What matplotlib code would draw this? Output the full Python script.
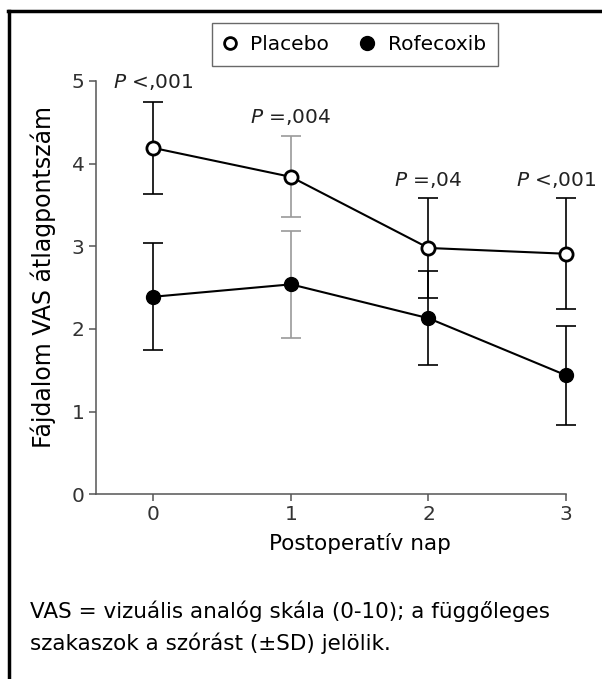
import numpy as np
import matplotlib.pyplot as plt
from matplotlib.lines import Line2D

plt.rcParams['font.family'] = ['DejaVu Sans']

napok = [0, 1, 2, 3]
placebo = [4.19, 3.84, 2.98, 2.91]
placebo_sd = [0.56, 0.49, 0.60, 0.67]
rofecoxib = [2.39, 2.54, 2.13, 1.44]
rofecoxib_sd = [0.65, 0.65, 0.57, 0.60]
p_szoveg = ['<,001', '=,004', '=,04', '<,001']
p_y = [4.99, 4.56, 3.80, 3.80]
sd_szin = ['black', '#9a9a9a', 'black', 'black']

W, H = 602, 679
fig = plt.figure(figsize=(W / 100, H / 100), dpi=100)
# tengely: x 95.7..566 px, y 81..494.3 px
ax = fig.add_axes([95.7 / W, 1 - 494.3 / H, (566 - 95.7) / W, (494.3 - 81) / H])
xmin, xmax = -0.42, 3.0

# szorasok
for i, x in enumerate(napok):
    for y, sd in [(placebo[i], placebo_sd[i]), (rofecoxib[i], rofecoxib_sd[i])]:
        eb = ax.errorbar(x, y, yerr=sd, fmt='none', ecolor=sd_szin[i],
                         elinewidth=1.2, capsize=7, capthick=1.2, zorder=1)
        for art in eb.get_children():
            art.set_clip_on(False)

ax.plot(napok, placebo, color='black', lw=1.5, marker='o', ms=9.5,
        mfc='white', mec='black', mew=2, zorder=3, clip_on=False)
ax.plot(napok, rofecoxib, color='black', lw=1.5, marker='o', ms=10,
        mfc='black', mec='black', zorder=3, clip_on=False)

for x, t, y in zip(napok, p_szoveg, p_y):
    dx = -0.07 if x == 3 else 0
    ax.text(x + dx, y, r'$\it{P}$ ' + t, ha='center', va='center', fontsize=14.5,
            color='#222222', clip_on=False)

ax.set_xlim(xmin, xmax)
ax.set_ylim(0, 5)
ax.set_xticks(napok)
ax.set_yticks([0, 1, 2, 3, 4, 5])
for s in ['top', 'right']:
    ax.spines[s].set_visible(False)
for s in ['left', 'bottom']:
    ax.spines[s].set_color('#555555')
    ax.spines[s].set_linewidth(1.1)
ax.tick_params(length=5, width=1.1, color='#555555', labelsize=14.5,
               labelcolor='#333333')
ax.tick_params(axis='y', pad=3)
ax.tick_params(axis='x', pad=3)

ax.set_xlabel('Postoperatív nap', fontsize=15.5)
ax.xaxis.set_label_coords((1.5 - xmin) / (xmax - xmin), -(532.5 - 494.3) / (494.3 - 81))
ax.set_ylabel('Fájdalom VAS átlagpontszám', fontsize=17)
ax.yaxis.set_label_coords((43 - 95.7) / (566 - 95.7), 0.526)
ax.yaxis.label.set_va('center')

# jelmagyarazat
jel = [Line2D([], [], ls='none', marker='o', ms=8.5, mfc='white', mec='black', mew=2),
       Line2D([], [], ls='none', marker='o', ms=10, mfc='black', mec='black')]
leg = fig.legend(jel, ['Placebo', 'Rofecoxib'], loc='upper left',
                 bbox_to_anchor=(212 / W, 1 - 23 / H), ncol=2, fontsize=14.5,
                 frameon=True, fancybox=False, edgecolor='#444444',
                 handlelength=0.6, handletextpad=0.7, columnspacing=1.6,
                 borderpad=0.6, borderaxespad=0)
leg.get_frame().set_linewidth(1.0)

fig.text(30 / W, 1 - 618 / H, 'VAS = vizuális analóg skála (0-10); a függőleges',
         fontsize=15.5, va='baseline', ha='left')
fig.text(30 / W, 1 - 650 / H, 'szakaszok a szórást (±SD) jelölik.',
         fontsize=15.5, va='baseline', ha='left')

# keret
fig.add_artist(Line2D([9 / W, 9 / W], [0, 1 - 11 / H], color='black', lw=2.5))
fig.add_artist(Line2D([8 / W, 1], [1 - 11 / H, 1 - 11 / H], color='black', lw=2.5))

fig.savefig('out.png', dpi=100)
